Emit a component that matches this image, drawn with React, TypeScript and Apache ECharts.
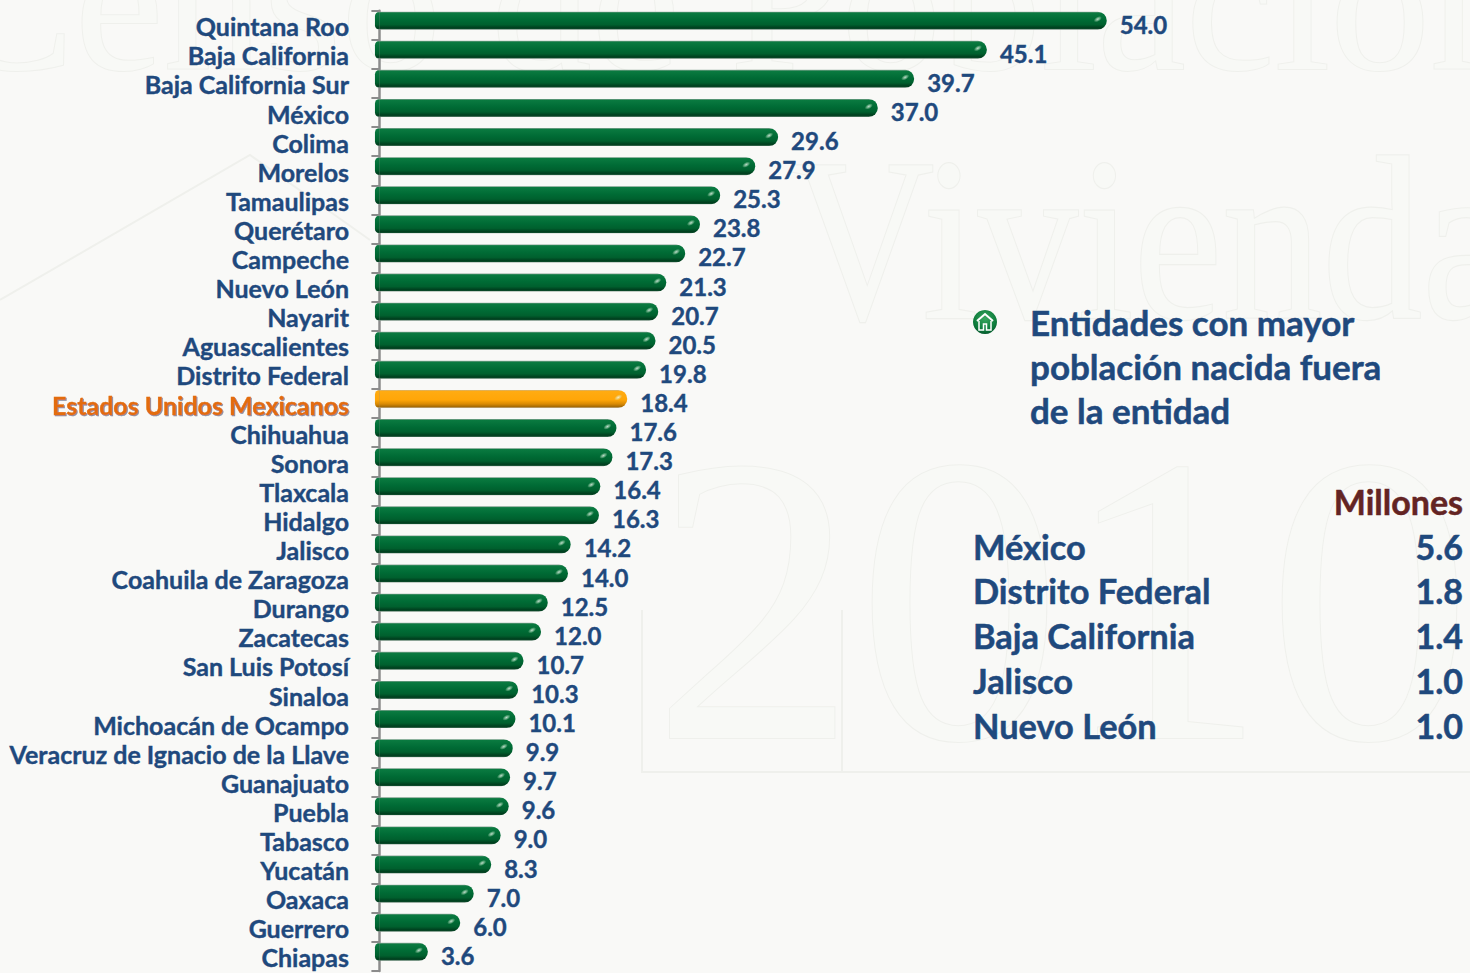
import React, { useEffect, useRef } from "react";
import * as echarts from "echarts";

const categories = [
  "Quintana Roo", "Baja California", "Baja California Sur", "México", "Colima", "Morelos", "Tamaulipas",
  "Querétaro", "Campeche", "Nuevo León", "Nayarit", "Aguascalientes", "Distrito Federal",
  "Estados Unidos Mexicanos", "Chihuahua", "Sonora", "Tlaxcala", "Hidalgo", "Jalisco", "Coahuila de Zaragoza",
  "Durango", "Zacatecas", "San Luis Potosí", "Sinaloa", "Michoacán de Ocampo", "Veracruz de Ignacio de la Llave",
  "Guanajuato", "Puebla", "Tabasco", "Yucatán", "Oaxaca", "Guerrero", "Chiapas",
];
const values = [
  54.0, 45.1, 39.7, 37.0, 29.6, 27.9, 25.3, 23.8, 22.7, 21.3, 20.7, 20.5, 19.8, 18.4, 17.6, 17.3, 16.4, 16.3,
  14.2, 14.0, 12.5, 12.0, 10.7, 10.3, 10.1, 9.9, 9.7, 9.6, 9.0, 8.3, 7.0, 6.0, 3.6,
];
const highlighted = "Estados Unidos Mexicanos";
const panelTitle = ["Entidades con mayor", "población nacida fuera", "de la entidad"];
const tableHeader = "Millones";
const tableNames = ["México", "Distrito Federal", "Baja California", "Jalisco", "Nuevo León"];
const tableValues = ["5.6", "1.8", "1.4", "1.0", "1.0"];

const FONT = "Lato";
const BLUE = "#1f497d";
const WM_STROKE = "#eff0ec";
const WM_FILL = "#f8f9f6";

const vGrad = (stops: [number, string][]) =>
  new echarts.graphic.LinearGradient(0, 0, 0, 1, stops.map(([offset, color]) => ({ offset, color })));
const green = vGrad([[0, "#8fa89a"], [0.07, "#0a7a40"], [0.45, "#006b35"], [0.72, "#00602e"], [0.9, "#003f1e"], [0.96, "#0c4a2a"], [1, "#98a89e"]]);
const orange = vGrad([[0, "#c9b48a"], [0.07, "#ffab12"], [0.55, "#ffa608"], [0.78, "#d98a04"], [0.92, "#a86c05"], [1, "#b9a88a"]]);
const colorOf = (i: number) => (categories[i] === highlighted ? orange : green);

function watermark() {
  const text = (t: string, x: number, y: number, size: number, scaleY = 1, align = "left") => ({
    type: "text",
    x,
    y,
    scaleY,
    silent: true,
    style: {
      text: t,
      x: 0,
      y: 0,
      fontFamily: "Liberation Serif",
      fontSize: size,
      textAlign: align,
      textVerticalAlign: "bottom",
      fill: WM_FILL,
      stroke: WM_STROKE,
      lineWidth: 2,
    },
  });
  const line = (points: number[][]) => ({
    type: "polyline",
    silent: true,
    shape: { points },
    style: { stroke: WM_STROKE, lineWidth: 2, fill: "none" },
  });
  return [
    text("Censo de Población", 1530, 101, 200, 1, "right"),
    text("Vivienda", 790, 356, 200, 1.17),
    text("2010", 652, 805, 410),
    line([[0, 300], [250, 155], [370, 240]]),
    line([[642, 610], [642, 772], [1470, 772]]),
    line([[842, 610], [842, 772]]),
  ];
}

function panel() {
  const t = (s: string, x: number, y: number, size: number, fill: string, align = "left") => ({
    type: "text",
    x,
    y,
    z: 20,
    silent: true,
    style: {
      text: s, x: 0, y: 0, fontFamily: FONT, fontWeight: "bold", fontSize: size, fill, textAlign: align,
      textVerticalAlign: "middle", stroke: fill, lineWidth: 0.5,
    },
  });
  const titleY = [322, 366, 410];
  const rowY = [546, 590, 635, 680, 725];
  const house = {
    type: "group",
    x: 985,
    y: 322,
    z: 20,
    silent: true,
    children: [
      {
        type: "circle",
        shape: { cx: 0, cy: 0, r: 12 },
        style: {
          fill: new echarts.graphic.RadialGradient(0.5, 0.35, 0.7, [
            { offset: 0, color: "#3aa860" },
            { offset: 0.7, color: "#0b7a3a" },
            { offset: 1, color: "#04502a" },
          ]),
        },
      },
      {
        type: "polyline",
        shape: { points: [[-8, -1], [0, -8], [8, -1]] },
        style: { stroke: "#ffffff", lineWidth: 2, fill: "none" },
      },
      {
        type: "polyline",
        shape: { points: [[-6, -1], [-6, 8], [-1.5, 8], [-1.5, 2], [1.5, 2], [1.5, 8], [6, 8], [6, -1]] },
        style: { stroke: "#ffffff", lineWidth: 1.5, fill: "none" },
      },
    ],
  };
  return [
    house,
    ...panelTitle.map((s, i) => t(s, 1030, titleY[i], 35, BLUE)),
    t(tableHeader, 1463, 501, 34, "#632423", "right"),
    ...tableNames.map((s, i) => t(s, 973, rowY[i], 34.4, BLUE)),
    ...tableValues.map((s, i) => t(s, 1463, rowY[i], 34, BLUE, "right")),
  ];
}

export default function App() {
  const ref = useRef<HTMLDivElement>(null);
  useEffect(() => {
    document.body.style.margin = "0";
    const chart = echarts.init(ref.current!, undefined, { renderer: "svg" });
    const xRange = { min: -0.475, max: 80 };
    const capStart = categories.map(() => -0.33);
    chart.setOption({
      animation: false,
      backgroundColor: "#f9f9f7",
      tooltip: { show: false },
      grid: [
        { left: 373, top: 10.7, width: 1084, height: 960.3 },
        { left: 373, top: 6.1, width: 1084, height: 960.3 },
      ],
      xAxis: [
        { gridIndex: 0, type: "value", ...xRange, show: false },
        { gridIndex: 1, type: "value", ...xRange, show: false },
      ],
      yAxis: [
        {
          gridIndex: 0,
          type: "category",
          inverse: true,
          data: categories,
          axisLine: { show: true, lineStyle: { color: "#8c8c8c", width: 2.5 } },
          axisTick: { show: true, length: 8, lineStyle: { color: "#8c8c8c", width: 2 } },
          axisLabel: {
            interval: 0,
            margin: 24,
            formatter: (v: string) => (v === highlighted ? `{hl|${v}}` : `{n|${v}}`),
            rich: {
              n: { fontFamily: FONT, fontWeight: "bold", fontSize: 25, lineHeight: 24, color: BLUE, padding: [2, 0, 0, 0], textBorderColor: BLUE, textBorderWidth: 0.4 },
              hl: {
                fontFamily: FONT,
                fontWeight: "bold",
                fontSize: 25,
                lineHeight: 24,
                color: "#e36c0a",
                padding: [2, 0, 0, 0],
                textBorderColor: "#e36c0a",
                textBorderWidth: 0.4,
                textShadowColor: "#8a8fa0",
                textShadowOffsetX: 1,
                textShadowOffsetY: 1,
                textShadowBlur: 1,
              },
            },
          },
        },
        { gridIndex: 1, type: "category", inverse: true, data: categories, show: false },
      ],
      series: [
        {
          name: "cap",
          type: "bar",
          xAxisIndex: 1,
          yAxisIndex: 1,
          barWidth: 18,
          barGap: "-100%",
          silent: true,
          data: capStart.map((v, i) => ({ value: v, itemStyle: { color: colorOf(i), borderRadius: [5, 0, 0, 5] } })),
        },
        {
          name: "Porcentaje",
          type: "bar",
          xAxisIndex: 1,
          yAxisIndex: 1,
          barWidth: 18,
          barGap: "-100%",
          silent: true,
          data: values.map((v, i) => ({ value: v, itemStyle: { color: colorOf(i), borderRadius: [0, 9, 9, 0] } })),
          label: {
            show: true,
            position: "right",
            distance: 13,
            offset: [0, 3.5],
            fontFamily: FONT,
            fontWeight: "bold",
            fontSize: 24,
            color: BLUE,
            textBorderColor: BLUE,
            textBorderWidth: 0.4,
            formatter: (p: any) => Number(p.value).toFixed(1),
          },
        },
        {
          name: "brillo",
          type: "scatter",
          xAxisIndex: 1,
          yAxisIndex: 1,
          silent: true,
          z: 5,
          symbol: "circle",
          symbolSize: [9, 5],
          symbolOffset: [-9, -1.5],
          symbolRotate: 30,
          data: values.map((v, i) => [v, i]),
          itemStyle: {
            color: new echarts.graphic.RadialGradient(0.5, 0.5, 0.5, [
              { offset: 0, color: "rgba(255,255,255,0.95)" },
              { offset: 0.5, color: "rgba(220,245,220,0.55)" },
              { offset: 1, color: "rgba(200,240,200,0)" },
            ]),
          },
        },
      ],
      graphic: { elements: [...watermark(), ...panel()] },
    });
    return () => chart.dispose();
  }, []);
  return <div ref={ref} style={{ width: 1470, height: 973 }} />;
}
